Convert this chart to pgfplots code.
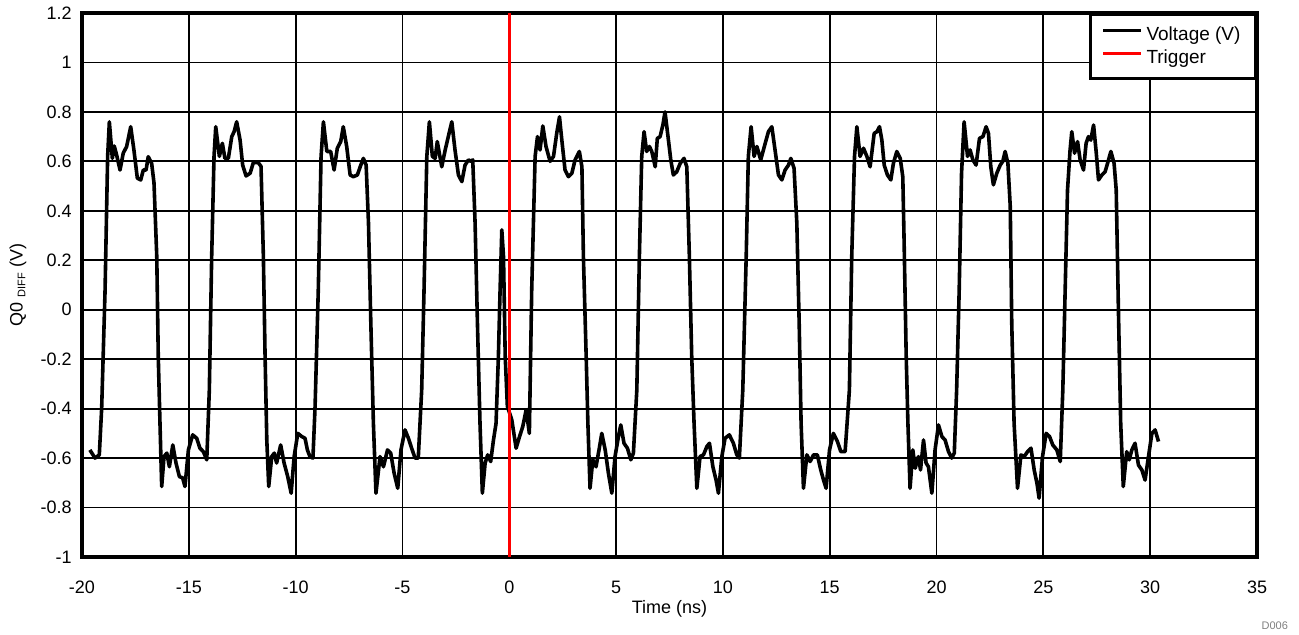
\documentclass[border=0pt]{standalone}
\usepackage{fontspec}
\setmainfont{Liberation Sans}
\usepackage{pgfplots}
\pgfplotsset{compat=1.18}
\usetikzlibrary{calc}

\begin{document}
\begin{tikzpicture}[font=\fontsize{9}{10.8}\selectfont]
\begin{axis}[
  name=ax,
  scale only axis,
  width=587.5pt, height=272pt,
  xmin=-20, xmax=35, ymin=-1, ymax=1.2,
  xtick={-20,-15,-10,-5,0,5,10,15,20,25,30,35},
  ytick={-1,-0.8,-0.6,-0.4,-0.2,0,0.2,0.4,0.6,0.8,1,1.2},
  yticklabels={-1,-0.8,-0.6,-0.4,-0.2,0,0.2,0.4,0.6,0.8,1,1.2},
  /pgf/number format/assume math mode=true,
  major tick length=0pt,
  grid=major,
  major grid style={black, line width=0.9pt},
  axis line style={line width=1.75pt},
  xticklabel style={anchor=center, yshift=-15pt},
  yticklabel style={anchor=east, inner sep=0pt, xshift=-5pt},
  xlabel={Time (ns)},
  ylabel={Q0 \raisebox{-0.3ex}{\fontsize{5.5}{6}\selectfont DIFF} (V)},
  xlabel style={at={(axis description cs:0.5,-0.096)}, anchor=center},
  ylabel style={at={(axis description cs:-0.0545,0.5)}, anchor=center, rotate=0},
  legend cell align=left,
  legend image code/.code={\draw[#1, line width=1.5pt] (0pt,2pt) -- (19pt,2pt);},
  legend style={at={(1,1)}, anchor=north east, draw=black, line width=1.5pt,
    fill=white, inner xsep=5.5pt, inner ysep=4pt, row sep=-1pt,
    font=\fontsize{9.5}{11.4}\selectfont},
]
\addplot[black, line width=1.8pt, line join=round] coordinates {
(-19.63,-0.567) (-19.39,-0.60) (-19.19,-0.587) (-19.08,-0.40) (-18.92,0.08) (-18.80,0.62) (-18.72,0.76) (-18.58,0.612) (-18.49,0.662) (-18.38,0.626) (-18.22,0.565) (-18.07,0.633) (-17.91,0.66) (-17.72,0.74) (-17.57,0.646) (-17.41,0.532) (-17.25,0.525) (-17.13,0.565) (-17.0,0.565) (-16.90,0.619) (-16.74,0.592) (-16.63,0.513) (-16.50,0.215) (-16.43,-0.19) (-16.35,-0.458) (-16.27,-0.715) (-16.16,-0.594) (-16.03,-0.58) (-15.91,-0.635) (-15.75,-0.547) (-15.60,-0.62) (-15.44,-0.675) (-15.29,-0.68) (-15.18,-0.715) (-15.02,-0.567) (-14.82,-0.506) (-14.63,-0.52) (-14.48,-0.56) (-14.32,-0.574) (-14.16,-0.607)
(-14.04,-0.325) (-13.93,0.215) (-13.82,0.62) (-13.74,0.74) (-13.57,0.62) (-13.43,0.673) (-13.31,0.612) (-13.15,0.612) (-12.99,0.70) (-12.88,0.72) (-12.76,0.76) (-12.60,0.686) (-12.48,0.585) (-12.32,0.541) (-12.13,0.552) (-11.98,0.595) (-11.75,0.595) (-11.62,0.58) (-11.51,0.215) (-11.43,-0.19) (-11.35,-0.527) (-11.26,-0.715) (-11.12,-0.594) (-11.0,-0.58) (-10.89,-0.62) (-10.70,-0.547) (-10.54,-0.62) (-10.37,-0.675) (-10.21,-0.742) (-10.07,-0.594) (-9.90,-0.50) (-9.71,-0.513) (-9.56,-0.52) (-9.45,-0.567) (-9.33,-0.594) (-9.19,-0.60)
(-9.09,-0.392) (-8.94,0.08) (-8.81,0.619) (-8.70,0.76) (-8.54,0.64) (-8.36,0.64) (-8.20,0.565) (-8.05,0.653) (-7.89,0.68) (-7.77,0.74) (-7.61,0.66) (-7.45,0.545) (-7.30,0.538) (-7.11,0.545) (-6.95,0.585) (-6.83,0.612) (-6.70,0.585) (-6.59,0.35) (-6.48,-0.055) (-6.36,-0.46) (-6.24,-0.742) (-6.05,-0.594) (-5.89,-0.635) (-5.70,-0.567) (-5.55,-0.58) (-5.39,-0.661) (-5.22,-0.722) (-5.07,-0.567) (-4.88,-0.486) (-4.72,-0.52) (-4.57,-0.56) (-4.41,-0.60) (-4.26,-0.60)
(-4.10,-0.325) (-3.99,0.08) (-3.86,0.619) (-3.74,0.76) (-3.60,0.62) (-3.47,0.612) (-3.37,0.68) (-3.16,0.578) (-3.0,0.646) (-2.80,0.72) (-2.69,0.76) (-2.54,0.646) (-2.38,0.545) (-2.22,0.518) (-2.07,0.585) (-1.91,0.606) (-1.80,0.60) (-1.71,0.606) (-1.60,0.35) (-1.49,-0.055) (-1.37,-0.46) (-1.26,-0.742) (-1.13,-0.62) (-1.01,-0.587) (-0.87,-0.614) (-0.74,-0.527) (-0.62,-0.46) (-0.51,-0.19) (-0.43,0.08) (-0.35,0.323) (-0.27,0.215) (-0.19,-0.19) (-0.09,-0.39) (0.12,-0.446) (0.32,-0.56) (0.48,-0.513) (0.63,-0.473) (0.79,-0.405) (0.94,-0.50)
(1.05,0.08) (1.21,0.62) (1.32,0.70) (1.44,0.646) (1.57,0.743) (1.72,0.66) (1.91,0.60) (2.07,0.62) (2.22,0.713) (2.35,0.78) (2.46,0.686) (2.61,0.565) (2.77,0.538) (2.93,0.552) (3.08,0.606) (3.28,0.64) (3.40,0.578) (3.47,0.215) (3.60,-0.19) (3.68,-0.46) (3.78,-0.722) (3.91,-0.607) (4.06,-0.635) (4.20,-0.567) (4.33,-0.50) (4.49,-0.567) (4.64,-0.661) (4.80,-0.742) (4.95,-0.594) (5.11,-0.513) (5.22,-0.466) (5.37,-0.54) (5.53,-0.56) (5.69,-0.607) (5.81,-0.58)
(5.97,-0.325) (6.09,0.215) (6.20,0.62) (6.31,0.72) (6.43,0.64) (6.56,0.66) (6.67,0.64) (6.83,0.578) (6.93,0.693) (7.06,0.70) (7.19,0.747) (7.29,0.80) (7.45,0.686) (7.56,0.606) (7.68,0.545) (7.84,0.558) (8.0,0.592) (8.18,0.612) (8.31,0.578) (8.43,0.215) (8.54,-0.19) (8.65,-0.46) (8.78,-0.722) (8.93,-0.594) (9.09,-0.587) (9.25,-0.553) (9.37,-0.54) (9.53,-0.635) (9.68,-0.689) (9.79,-0.742) (9.95,-0.594) (10.10,-0.52) (10.30,-0.506) (10.49,-0.54) (10.65,-0.587) (10.77,-0.60)
(10.93,-0.325) (11.09,0.215) (11.19,0.62) (11.32,0.74) (11.46,0.62) (11.59,0.66) (11.77,0.606) (11.98,0.673) (12.13,0.72) (12.29,0.74) (12.44,0.646) (12.60,0.545) (12.76,0.525) (12.91,0.565) (13.07,0.585) (13.18,0.612) (13.33,0.572) (13.46,0.35) (13.57,-0.055) (13.66,-0.46) (13.77,-0.722) (13.93,-0.587) (14.08,-0.614) (14.24,-0.587) (14.42,-0.587) (14.58,-0.648) (14.71,-0.689) (14.83,-0.722) (14.99,-0.567) (15.17,-0.50) (15.36,-0.533) (15.52,-0.574) (15.72,-0.574)
(15.92,-0.325) (16.03,0.215) (16.16,0.62) (16.27,0.74) (16.42,0.62) (16.58,0.653) (16.74,0.62) (16.89,0.578) (17.08,0.713) (17.21,0.72) (17.33,0.74) (17.44,0.686) (17.55,0.585) (17.70,0.545) (17.86,0.525) (17.98,0.592) (18.14,0.64) (18.30,0.612) (18.42,0.538) (18.48,0.282) (18.58,-0.19) (18.66,-0.46) (18.76,-0.722) (18.89,-0.567) (19.0,-0.641) (19.15,-0.594) (19.25,-0.648) (19.39,-0.527) (19.51,-0.62) (19.62,-0.635) (19.78,-0.742) (19.93,-0.567) (20.09,-0.466) (20.25,-0.513) (20.40,-0.527) (20.56,-0.574) (20.71,-0.60) (20.83,-0.58)
(20.94,-0.325) (21.06,0.08) (21.17,0.552) (21.29,0.76) (21.45,0.62) (21.57,0.646) (21.70,0.606) (21.85,0.585) (22.01,0.693) (22.17,0.70) (22.32,0.74) (22.43,0.713) (22.54,0.578) (22.66,0.505) (22.82,0.552) (22.98,0.585) (23.10,0.60) (23.21,0.64) (23.34,0.592) (23.45,0.417) (23.52,-0.055) (23.63,-0.46) (23.79,-0.722) (23.95,-0.587) (24.10,-0.594) (24.26,-0.574) (24.42,-0.56) (24.57,-0.648) (24.70,-0.702) (24.80,-0.762) (24.96,-0.594) (25.13,-0.50) (25.29,-0.513) (25.44,-0.547) (25.63,-0.567) (25.79,-0.614)
(25.91,-0.325) (26.02,0.08) (26.13,0.484) (26.25,0.646) (26.33,0.72) (26.46,0.633) (26.60,0.68) (26.72,0.606) (26.88,0.565) (27.00,0.673) (27.11,0.70) (27.22,0.686) (27.35,0.747) (27.47,0.64) (27.58,0.525) (27.74,0.545) (27.89,0.558) (28.05,0.606) (28.16,0.64) (28.31,0.592) (28.41,0.484) (28.51,0.012) (28.62,-0.46) (28.74,-0.715) (28.90,-0.574) (29.02,-0.607) (29.14,-0.567) (29.29,-0.54) (29.45,-0.628) (29.61,-0.648) (29.76,-0.689) (29.92,-0.594) (30.08,-0.50) (30.23,-0.486) (30.39,-0.533)
};
\addlegendentry{Voltage (V)}
\addplot[red, line width=1.5pt] coordinates {(0,-1) (0,1.2)};
\addlegendentry{Trigger}
\end{axis}
\node[anchor=east, text=gray, font=\fontsize{5.5}{6}\selectfont] at ($(ax.south east)+(19pt,-34.5pt)$) {D006};
\pgfresetboundingbox
\useasboundingbox ($(ax.south west)+(-41pt,-39pt)$) rectangle ($(ax.north east)+(21pt,6.5pt)$);
\end{tikzpicture}
\end{document}
